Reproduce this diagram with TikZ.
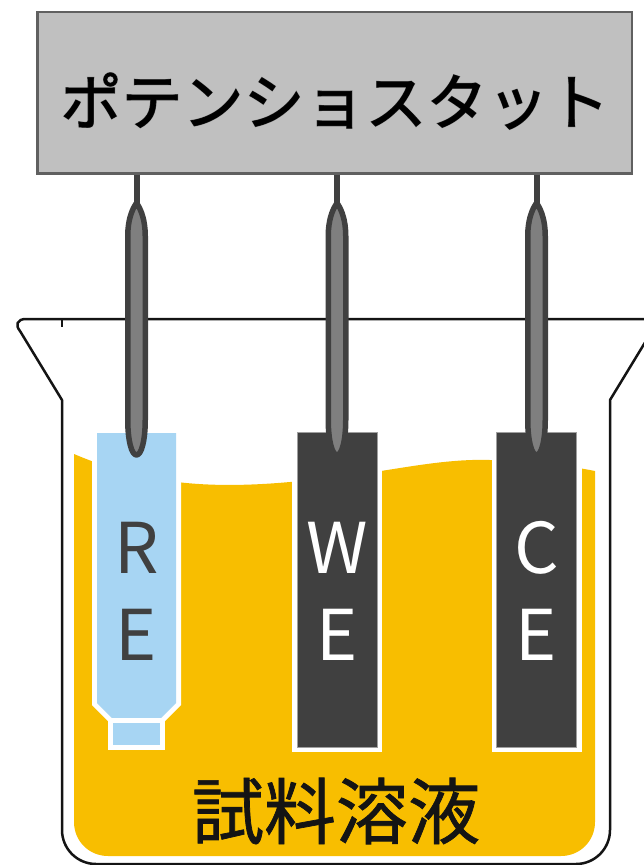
\documentclass[tikz,border=0pt]{standalone}
\usepackage{fontspec}
\newfontfamily\jp{Noto Sans CJK JP}
\newfontfamily\jpheavy[FakeBold=1.0]{Noto Sans CJK JP}
\newfontfamily\jphalo[FakeBold=2.4]{Noto Sans CJK JP}
\definecolor{boxgray}{HTML}{C0C0C0}
\definecolor{boxedge}{HTML}{606060}
\definecolor{liquid}{HTML}{F8BE00}
\definecolor{refblue}{HTML}{A7D5F3}
\definecolor{darkel}{HTML}{404040}
\definecolor{probegray}{HTML}{7F7F7F}
\definecolor{inkblack}{HTML}{141414}
\tikzset{
  potbox/.style={rectangle, fill=boxgray, draw=boxedge, line width=2.5pt,
    minimum width=594.5pt, minimum height=161.5pt, inner sep=0pt},
  glass/.style={draw=inkblack, line width=2.5pt, line join=round},
  electrode/.style={rectangle, fill=darkel, draw=gray!75, line width=0.7pt,
    preaction={draw=white, line width=10pt},
    minimum width=80pt, minimum height=315pt, inner sep=0pt},
  wire/.style={draw=darkel, line width=6pt},
  probe/.style={draw=darkel, fill=probegray, line width=5.5pt, line join=round},
  elabel/.style={font=\jp\fontsize{70}{70}\selectfont, inner sep=0pt, anchor=base},
}
\begin{document}
\begin{tikzpicture}[x=1pt, y=-1pt]
\useasboundingbox (0,0) rectangle (644,865);
\clip (0,0) rectangle (644,865);

% beaker outline with pouring lips
\draw[glass] (646,319) -- (26,319)
  .. controls (17,319) and (15,325) .. (20,331) -- (62,400) -- (62,830)
  .. controls (62,848.8) and (77.2,864) .. (96,864) -- (576,864)
  .. controls (594.8,864) and (610,848.8) .. (610,830) -- (610,400)
  -- (652,331) .. controls (657,325) and (655,319) .. (646,319);
\draw[glass] (62,319) -- (62,327);

% sample solution
\fill[liquid] (74,454) -- (74,822)
  .. controls (74,841) and (89,856) .. (108,856) -- (561,856)
  .. controls (580,856) and (595,841) .. (595,822) -- (595,471)
  .. controls (570,466) and (540,462) .. (490,460)
  .. controls (430,458) and (370,477) .. (290,482)
  .. controls (200,490) and (140,482) .. (74,454) -- cycle;

% reference electrode: body with chamfered end and frit
\path[fill=refblue, preaction={draw=white, line width=10pt}]
  (97,433) -- (176,433) -- (176,703) -- (160,719) -- (113,719) -- (97,703) -- cycle;
\path[fill=refblue, preaction={draw=white, line width=10pt}]
  (113,723) rectangle (160,745);

% working and counter electrodes
\node[electrode] (WE) at (337,589.5) {};
\node[electrode] (CE) at (536.5,589.5) {};
\coordinate (RE) at (136.5,589.5);

% lead probes
\foreach \c/\n in {136.5/RE, 337/WE, 536.5/CE}{
  \coordinate (tip\n) at (\c,203);
  \path[probe] (\c,203) .. controls (\c+5,210) and (\c+8.75,221) .. (\c+8.75,236)
    -- (\c+8.75,420) .. controls (\c+8.75,440) and (\c+5,455) .. (\c,455)
    .. controls (\c-5,455) and (\c-8.75,440) .. (\c-8.75,420)
    -- (\c-8.75,236) .. controls (\c-8.75,221) and (\c-5,210) .. (\c,203) -- cycle;
}

% potentiostat with outlined title
\node[potbox] (pot) at (334.75,92.75) {};
\node[inner sep=0pt, text=boxedge, font=\jphalo\fontsize{61}{61}\selectfont]
  (titlehalo) at (335,101) {ポテンショスタット};
\node[inner sep=0pt, text=black, font=\jpheavy\fontsize{61}{61}\selectfont]
  (title) at (335,101) {ポテンショスタット};
\foreach \n in {RE, WE, CE}
  \draw[wire] (tip\n |- pot.south) -- (tip\n);

% electrode labels
\node[elabel, text=darkel] at (136.5,573) {R};
\node[elabel, text=darkel] at (136.5,660) {E};
\node[elabel, text=white] at (337,573) {W};
\node[elabel, text=white] at (337,660) {E};
\node[elabel, text=white] at (536.5,573) {C};
\node[elabel, text=white] at (536.5,660) {E};

% solution label
\node[inner sep=0pt, text=inkblack, font=\jpheavy\fontsize{72}{72}\selectfont]
  (sol) at (336,811) {試料溶液};
\end{tikzpicture}
\end{document}
